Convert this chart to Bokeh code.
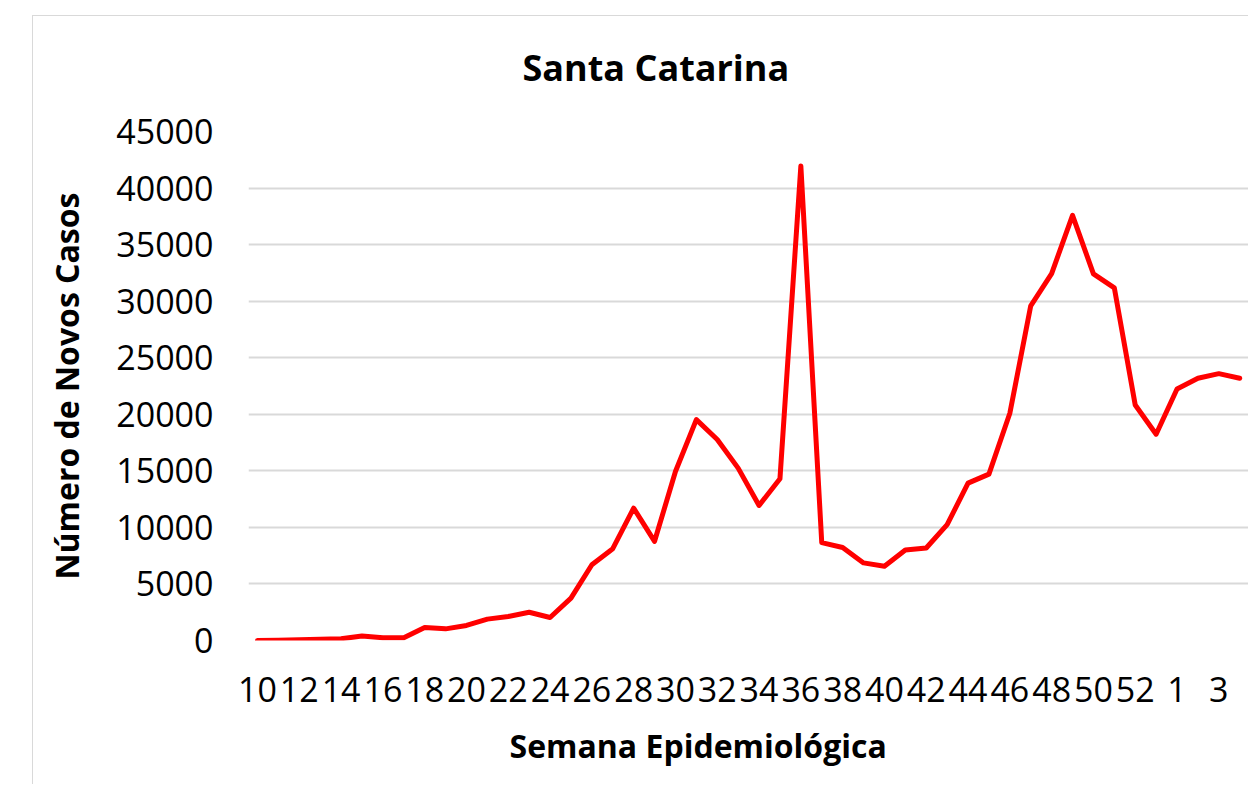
from bokeh.plotting import figure
from bokeh.models import Range1d, FixedTicker, Title
from bokeh.embed import file_html
from bokeh.resources import INLINE

# Epidemiological weeks (2020 weeks 10-53, then 2021 weeks 1-4)
weeks = list(range(10, 54)) + [1, 2, 3, 4]
# New cases per week
cases = [10, 30, 60, 120, 150, 400, 240, 240, 1150, 1030,
         1330, 1890, 2120, 2500, 2030, 3750, 6700, 8120, 11700, 8770,
         14940, 19530, 17770, 15240, 11940, 14300, 41950, 8650, 8220, 6860,
         6560, 8000, 8180, 10240, 13910, 14710, 20090, 29590, 32440, 37590,
         32410, 31180, 20820, 18240, 22240, 23180, 23590, 23180]
y_ticks = [0, 5000, 10000, 15000, 20000, 25000, 30000, 35000, 40000, 45000]

idx = list(range(len(weeks)))
tick_idx = idx[::2]
tick_labels = {i: str(weeks[i]) for i in tick_idx}

FONT = "Open Sans"

p = figure(width=1248, height=784, output_backend="svg", toolbar_location=None,
           x_range=Range1d(-0.43, 47.42), y_range=Range1d(0, 45000),
           min_border_left=248, min_border_right=0, min_border_top=131,
           min_border_bottom=144, background_fill_color="white",
           border_fill_color=None, outline_line_color=None)
# chart-area frame lines (top and left edges), drawn behind the transparent border
p.styles = {
    "background-image": "linear-gradient(#d9d9d9, #d9d9d9), linear-gradient(#d9d9d9, #d9d9d9)",
    "background-size": "1px 100%, 100% 1px",
    "background-position": "32px 15px, 32px 15px",
    "background-repeat": "no-repeat",
}

p.line(idx, cases, line_color="#ff0000", line_width=5,
       line_join="round", line_cap="round")

# title
p.title.text = "Santa Catarina"
p.title.text_font = FONT
p.title.text_font_style = "bold"
p.title.text_font_size = "36px"
p.title.align = "left"
p.title.offset = 274
p.title.standoff = 80
p.title.text_color = "black"

# x axis
p.xaxis.ticker = FixedTicker(ticks=tick_idx)
p.xaxis.major_label_overrides = tick_labels
p.xaxis.major_label_text_font = FONT
p.xaxis.major_label_text_font_size = "34px"
p.xaxis.major_label_text_color = "black"
p.xaxis.major_label_standoff = 36
p.xaxis.axis_line_color = None
p.xaxis.major_tick_line_color = None
p.xaxis.minor_tick_line_color = None
p.xaxis.major_tick_out = 0
p.xaxis.major_tick_in = 0

# x axis title (below the axis, centred like the original)
xt = Title(text="Semana Epidemiológica", align="left", offset=261,
           text_font=FONT, text_font_style="bold", text_font_size="32px",
           text_color="black", standoff=35)
p.add_layout(xt, "below")

# y axis
p.yaxis.ticker = FixedTicker(ticks=y_ticks)
p.yaxis.axis_label = "Número de Novos Casos"
p.yaxis.axis_label_text_font = FONT
p.yaxis.axis_label_text_font_style = "bold"
p.yaxis.axis_label_text_font_size = "32px"
p.yaxis.axis_label_text_color = "black"
p.yaxis.axis_label_standoff = 25
p.yaxis.major_label_text_font = FONT
p.yaxis.major_label_text_font_size = "34px"
p.yaxis.major_label_text_color = "black"
p.yaxis.major_label_standoff = 35
p.yaxis.axis_line_color = None
p.yaxis.major_tick_line_color = None
p.yaxis.minor_tick_line_color = None
p.yaxis.major_tick_out = 0
p.yaxis.major_tick_in = 0

p.xgrid.grid_line_color = None
p.ygrid.grid_line_color = "#d9d9d9"
p.ygrid.grid_line_width = 2

open("out.html", "w").write(file_html(p, INLINE))
